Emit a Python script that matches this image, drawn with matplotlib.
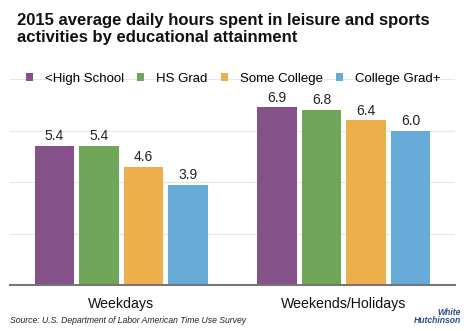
import matplotlib.pyplot as plt
import numpy as np

plt.rcParams["font.family"] = ["Liberation Sans", "DejaVu Sans"]

groups = ["Weekdays", "Weekends/Holidays"]
series = ["<High School", "HS Grad", "Some College", "College Grad+"]
hours = [
    [5.4, 6.9],
    [5.4, 6.8],
    [4.6, 6.4],
    [3.9, 6.0],
]
colors = ["#855189", "#6fa65a", "#ecaf4c", "#67abd9"]

fig = plt.figure(figsize=(4.74, 3.31), dpi=100)
ax = fig.add_axes([0.021, 0.139, 0.939, 0.622])

x = np.arange(len(groups))
step = 0.2
width = 0.179
for i, (name, vals, c) in enumerate(zip(series, hours, colors)):
    pos = x + (i - 1.5) * step
    ax.bar(pos, vals, width=width, color=c, label=name, zorder=2)
    for px, v in zip(pos, vals):
        ax.text(px, v + 0.1, f"{v:.1f}", ha="center", va="bottom", fontsize=10, color="#222222")

ax.set_xlim(-0.5, 1.5)
ax.set_ylim(0, 8)
ax.set_yticks([2, 4, 6, 8])
ax.yaxis.grid(True, color="#e6e6e6", linewidth=0.8, zorder=0)
ax.set_axisbelow(True)
ax.tick_params(axis="y", left=False, labelleft=False)
ax.tick_params(axis="x", bottom=False, labelsize=10.2, pad=5)
ax.set_xticks(x)
ax.set_xticklabels(groups, color="#111111")
for side in ("top", "right", "left"):
    ax.spines[side].set_visible(False)
ax.spines["bottom"].set_color("#777777")
ax.spines["bottom"].set_linewidth(1.5)

ax.legend(loc="lower left", bbox_to_anchor=(0.035, 0.972), ncol=4, frameon=False,
          fontsize=9.5, handlelength=0.55, handleheight=0.55, handletextpad=0.9,
          columnspacing=1.0, borderaxespad=0, borderpad=0)

fig.text(0.036, 0.96, "2015 average daily hours spent in leisure and sports\nactivities by educational attainment",
         ha="left", va="top", fontsize=12, fontweight="bold", linespacing=1.15, color="#111111")
fig.text(0.021, 0.025, "Source: U.S. Department of Labor American Time Use Survey",
         ha="left", va="baseline", fontsize=6.2, style="italic", color="#222222")
fig.text(0.972, 0.018, "White\nHutchinson", ha="right", va="bottom", fontsize=6.2,
         style="italic", fontweight="bold", color="#2a4b8d", linespacing=0.85)

fig.savefig("out.png", dpi=100)
